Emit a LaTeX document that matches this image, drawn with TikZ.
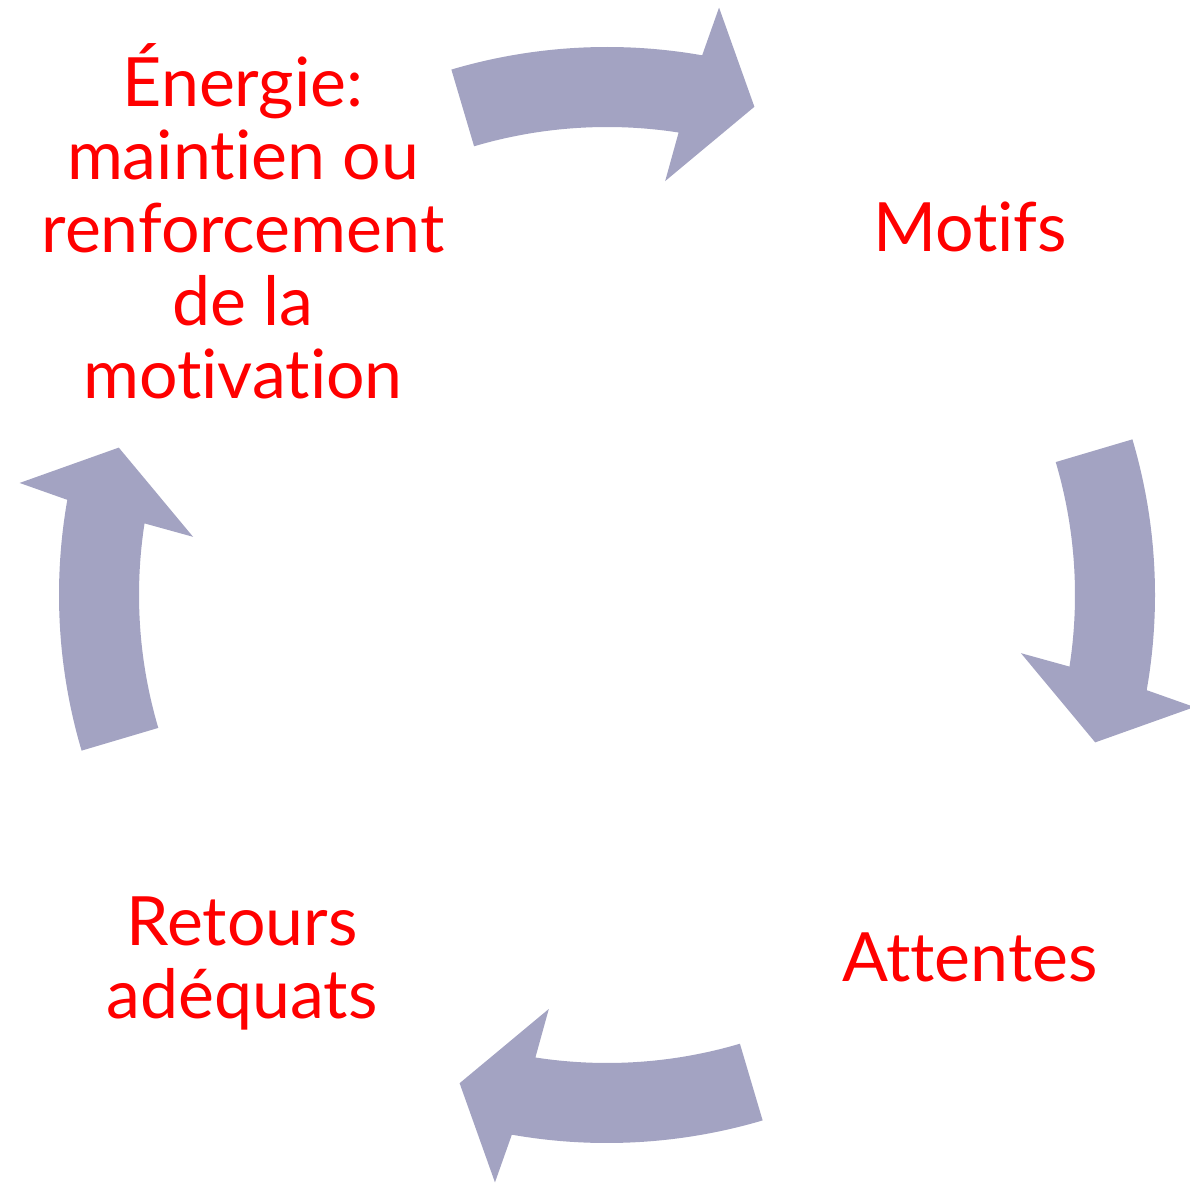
\documentclass[tikz,border=0pt]{standalone}
\usepackage{fontspec}
\setmainfont{Lato}[Ligatures={NoCommon}]
\definecolor{cycfill}{RGB}{163,163,194}
\definecolor{txtred}{RGB}{255,0,0}
\tikzset{
  x=1pt, y=1pt,
  cyc/.style={fill=cycfill, draw=none},
  lbl/.style={text=txtred, align=center, inner sep=0pt,
    font=\fontsize{68}{73}\selectfont},
}
\begin{document}
\begin{tikzpicture}
\useasboundingbox (0,0) rectangle (1190,1184);
\coordinate (c) at (607,589);
\foreach \a in {90,0,270,180}{
  \fill[cyc, shift={(c)}, rotate=\a]
    (16.5:548pt) arc[start angle=16.5, end angle=-10, radius=548pt]
    -- (-10.8:598pt) -- (-16.8:510pt) -- (-8:418pt)
    -- (-8.8:468pt) arc[start angle=-8.8, end angle=16.5, radius=468pt]
    -- cycle;
}
\node[lbl] (energie) at (243,962.5) {Énergie:\\maintien ou\\renforcement\\de la\\motivation};
\node[lbl] (motifs) at (970,957) {Motifs};
\node[lbl] (attentes) at (970,227) {Attentes};
\node[lbl] (retours) at (242,220.5) {Retours\\adéquats};
\end{tikzpicture}
\end{document}
